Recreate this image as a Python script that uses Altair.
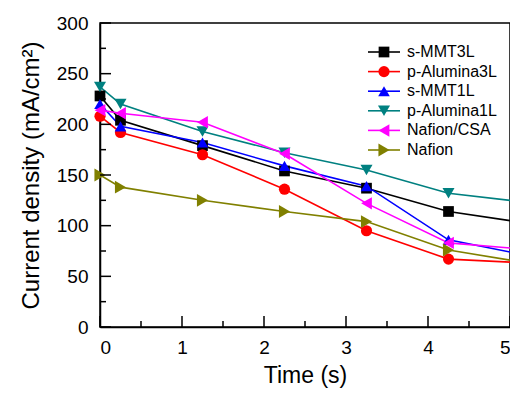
import altair as alt
import pandas as pd

# ---- data ----
times = [0, 0.25, 1.25, 2.25, 3.25, 4.25, 5]
names = ["s-MMT3L", "p-Alumina3L", "s-MMT1L", "p-Alumina1L", "Nafion/CSA", "Nafion"]
s_MMT3L = [228, 204, 179, 154, 137, 114, 105]
p_Alumina3L = [208, 192, 170, 136, 95, 67, 64]
s_MMT1L = [220, 198, 182, 159, 139, 86, 74]
p_Alumina1L = [237, 220, 193, 172, 155, 132, 125]
Nafion_CSA = [214, 211, 202, 171, 122, 83, 78]
Nafion = [150, 138, 125, 114, 104, 76, 66]
series_values = [s_MMT3L, p_Alumina3L, s_MMT1L, p_Alumina1L, Nafion_CSA, Nafion]

colors = ["#000000", "#ff0000", "#0000ff", "#008080", "#ff00ff", "#808000"]
shapes = ["square", "circle", "triangle-up", "triangle-down", "triangle-left", "triangle-right"]
sizes = [115, 165, 220, 220, 220, 220]

y_ticks = [0, 50, 100, 150, 200, 250, 300]
y_minor = [25, 75, 125, 175, 225, 275]
x_ticks = [0, 1, 2, 3, 4, 5]
x_minor = [0.5, 1.5, 2.5, 3.5, 4.5]

rows = []
for name, vals in zip(names, series_values):
    for t, v in zip(times, vals):
        rows.append({"series": name, "t": t, "v": v, "order": names.index(name)})
df = pd.DataFrame(rows)
leg = pd.DataFrame({"series": names})

FONT = "Liberation Sans"
W, H = 410, 304
MAJ, MIN = 11, 6

color_scale = alt.Scale(domain=names, range=colors)
xscale = alt.Scale(domain=[0, 5], nice=False)
yscale = alt.Scale(domain=[0, 300], nice=False)

lines = alt.Chart(df).mark_line(strokeWidth=1.6).encode(
    x=alt.X("t:Q", scale=xscale, axis=alt.Axis(
        orient="bottom", values=x_ticks, ticks=False, grid=False,
        domainColor="black", domainWidth=1.5, labelFont=FONT, labelFontSize=19,
        labelColor="black", labelPadding=11, format="d", title="Time (s)",
        titleFont=FONT, titleFontSize=23, titleFontWeight="normal", titleColor="black",
        titlePadding=7)),
    y=alt.Y("v:Q", scale=yscale, axis=alt.Axis(
        orient="left", values=y_ticks, ticks=False, grid=False,
        domainColor="black", domainWidth=1.5, labelFont=FONT, labelFontSize=19,
        labelColor="black", labelPadding=12, title="Current density (mA/cm²)",
        titleFont=FONT, titleFontSize=24, titleFontWeight="normal", titleColor="black",
        titlePadding=13)),
    color=alt.Color("series:N", scale=color_scale, legend=None),
    order=alt.Order("t:Q"),
)

points = alt.Chart(df).transform_filter("datum.t < 5").mark_point(
    filled=True, opacity=1
).encode(
    x=alt.X("t:Q", scale=xscale, axis=None),
    y=alt.Y("v:Q", scale=yscale, axis=None),
    color=alt.Color("series:N", scale=color_scale, legend=None),
    shape=alt.Shape("series:N", scale=alt.Scale(domain=names, range=shapes), legend=None),
    size=alt.Size("series:N", scale=alt.Scale(domain=names, range=sizes), legend=None),
    order=alt.Order("order:Q"),
)


# inward ticks drawn as rules at the tick values
def xticks_layer(vals, length):
    return alt.Chart(pd.DataFrame({"tv": vals})).mark_rule(color="black", strokeWidth=1.5).encode(
        x=alt.X("tv:Q", scale=xscale, axis=None),
        y=alt.value(H), y2=alt.value(H - length),
    )


def yticks_layer(vals, length):
    return alt.Chart(pd.DataFrame({"tv": vals})).mark_rule(color="black", strokeWidth=1.5).encode(
        y=alt.Y("tv:Q", scale=yscale, axis=None),
        x=alt.value(0), x2=alt.value(length),
    )


leg_y = alt.Y("series:N", scale=alt.Scale(type="point", domain=names, range=[29, 127], padding=0), axis=None)

leg_rule = alt.Chart(leg).mark_rule(strokeWidth=1.6).encode(
    x=alt.value(268), x2=alt.value(300), y=leg_y,
    color=alt.Color("series:N", scale=color_scale, legend=None),
)
leg_pts = alt.Chart(leg).mark_point(filled=True, opacity=1).encode(
    x=alt.value(284), y=leg_y,
    color=alt.Color("series:N", scale=color_scale, legend=None),
    shape=alt.Shape("series:N", scale=alt.Scale(domain=names, range=shapes), legend=None),
    size=alt.Size("series:N", scale=alt.Scale(domain=names, range=sizes), legend=None),
)
leg_txt = alt.Chart(leg).mark_text(
    align="left", baseline="middle", font=FONT, fontSize=16, color="black"
).encode(
    x=alt.value(307), y=leg_y, text="series:N",
)

chart = alt.layer(
    lines, points,
    xticks_layer(x_ticks, MAJ), xticks_layer(x_minor, MIN),
    yticks_layer(y_ticks, MAJ), yticks_layer(y_minor, MIN),
    leg_rule, leg_pts, leg_txt,
).resolve_scale(
    y="independent"
).resolve_axis(
    x="independent", y="independent"
).properties(
    width=W, height=H,
    autosize=alt.AutoSizeParams(type="none"),
    padding={"left": 92, "top": 15, "right": 0, "bottom": 62},
    background="white",
).configure_view(stroke="black", strokeWidth=1.5)

chart.save("out.html", embed_options={"renderer": "svg", "actions": False})
